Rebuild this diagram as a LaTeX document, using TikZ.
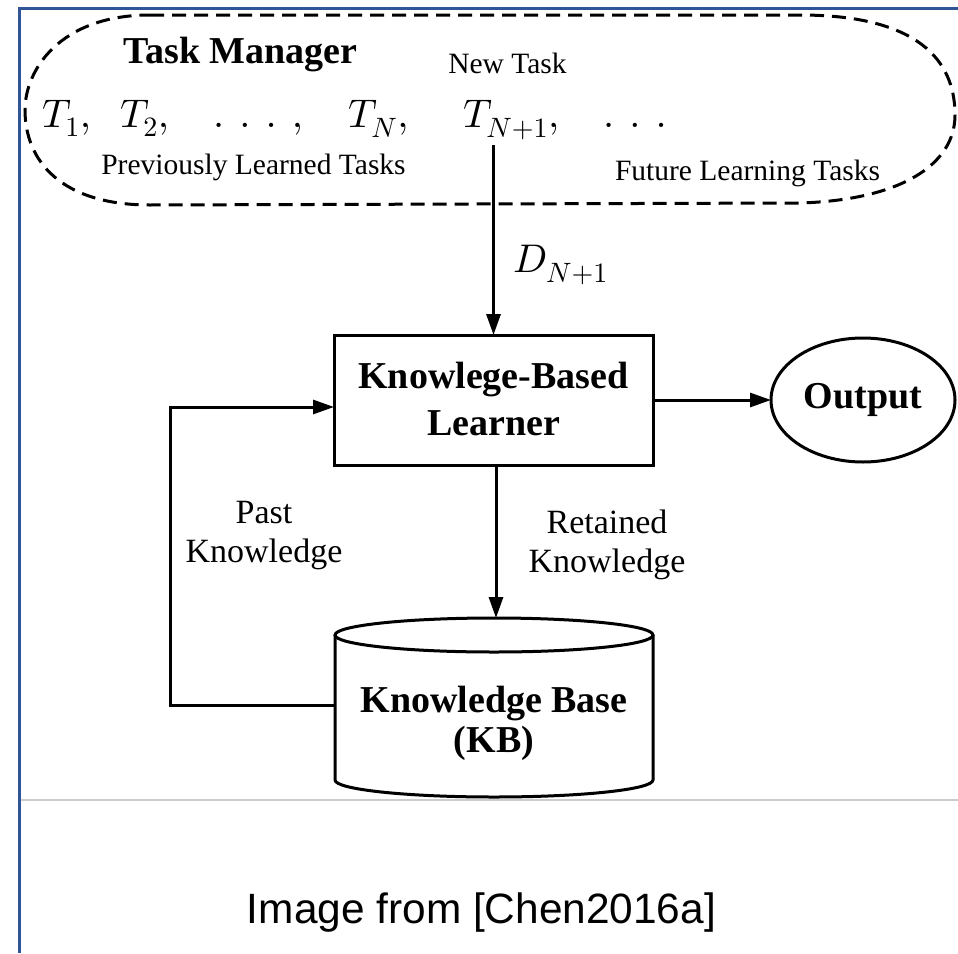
\documentclass[tikz,border=0pt]{standalone}
\usepackage[no-math]{fontspec}
\setmainfont{Liberation Serif}
\newfontfamily\capfont{Liberation Sans}
\DeclareFontShape{OML}{cmm}{m}{it}{<->cmmi10}{}
\DeclareFontShape{OT1}{cmr}{m}{n}{<->cmr10}{}
\usetikzlibrary{shapes.geometric,arrows.meta}
\definecolor{frameblue}{HTML}{2F5597}
\definecolor{sepgray}{HTML}{CCCCCC}
\begin{document}
\begin{tikzpicture}[x=1pt,y=-1pt,
  arr/.style={line width=3pt,-{Triangle[length=21pt,width=14pt]}},
  plain/.style={inner sep=0pt,outer sep=0pt},
  small/.style={plain,font=\fontsize{29.5}{34}\selectfont},
  bold/.style={plain,font=\fontsize{38}{46}\selectfont\bfseries},
  lbl/.style={plain,font=\fontsize{34}{39}\selectfont},
  mth/.style={plain,font=\fontsize{40}{47}\selectfont},
  boxed/.style={draw,line width=3pt,inner sep=0pt,outer sep=0pt},
  thick line/.style={line width=3pt},
]
\useasboundingbox (0,0) rectangle (958,953);
\fill[white] (0,0) rectangle (958,953);
% frame
\draw[frameblue,line width=2.2pt] (958,8.5) -- (19.5,8.5) -- (19.5,953);
\draw[sepgray,line width=1.5pt] (20.5,800) -- (958,800);
% task manager
\draw[thick line,dash pattern=on 14pt off 8pt] (150,15) -- (800,15)
  .. controls (930,15) and (955,70) .. (955,115)
  .. controls (955,165) and (900,200) .. (800,203) -- (150,205)
  .. controls (60,205) and (25,160) .. (25,110)
  .. controls (25,70) and (60,15) .. cycle;
\node[bold,anchor=base] (tm) at (240.5,63) {Task Manager};
\node[small,anchor=base] (nt) at (507.5,73) {New Task};
\node[mth,anchor=base west] (t1) at (42,127) {$T_1,$};
\node[mth,anchor=base west] (t2) at (120,127) {$T_2,$};
\node[mth,anchor=base west] (d1) at (213,127) {$.\mkern11mu.\mkern11mu.\mkern11mu,$};
\node[mth,anchor=base west] (tn) at (348,127) {$T_N,$};
\node[mth,anchor=base west] (tn1) at (463,127) {$T_{N+1},$};
\node[mth,anchor=base west] (d2) at (603,127) {$.\mkern11mu.\mkern11mu.$};
\node[small,anchor=base] (prev) at (253.5,174) {Previously Learned Tasks};
\node[small,anchor=base] (fut) at (747.5,180) {Future Learning Tasks};
\node[mth,anchor=base west] (dn) at (513,272) {$D_{N+1}$};
% learner
\node[boxed,minimum width=319pt,minimum height=130pt] (learner) at (493.5,400) {};
\node[bold,anchor=base] (l1) at (493.5,388) {Knowlege-Based};
\node[bold,anchor=base] (l2) at (493.5,435) {Learner};
% output
\node[boxed,ellipse,minimum width=184pt,minimum height=124pt,font=\fontsize{38}{46}\selectfont\bfseries] (out) at (863,400) {Output};
% knowledge base cylinder
\draw[thick line] (494,635) ellipse [x radius=159pt, y radius=17pt];
\draw[thick line] (335,635) -- (335,780) arc[start angle=180,end angle=360,x radius=159pt,y radius=17pt] -- (653,635);
\node[bold,anchor=base] (kb1) at (494,712) {Knowledge Base};
\node[bold,anchor=base] (kb2) at (494,752) {(KB)};
% labels
\node[lbl,anchor=base] (p1) at (264,523) {Past};
\node[lbl,anchor=base] (p2) at (264,562) {Knowledge};
\node[lbl,anchor=base] (r1) at (607,533) {Retained};
\node[lbl,anchor=base] (r2) at (607,572) {Knowledge};
% connectors
\coordinate (newtop) at (493.5,145);
\coordinate (kbtop) at (496,618);
\coordinate (kbw) at (335,705);
\coordinate (fb1) at (170,705);
\coordinate (fb2) at (170,407);
\draw[arr] (newtop) -- (learner.north);
\draw[arr] (learner.east) -- (out.west);
\draw[arr] (learner.south -| kbtop) -- (kbtop);
\draw[arr] (kbw) -- (fb1) -- (fb2) -- (fb2 -| learner.west);
% caption
\node[plain,font=\capfont\fontsize{42.4}{50}\selectfont,anchor=base] (cap) at (481.5,923) {Image from [Chen2016a]};
\end{tikzpicture}
\end{document}
